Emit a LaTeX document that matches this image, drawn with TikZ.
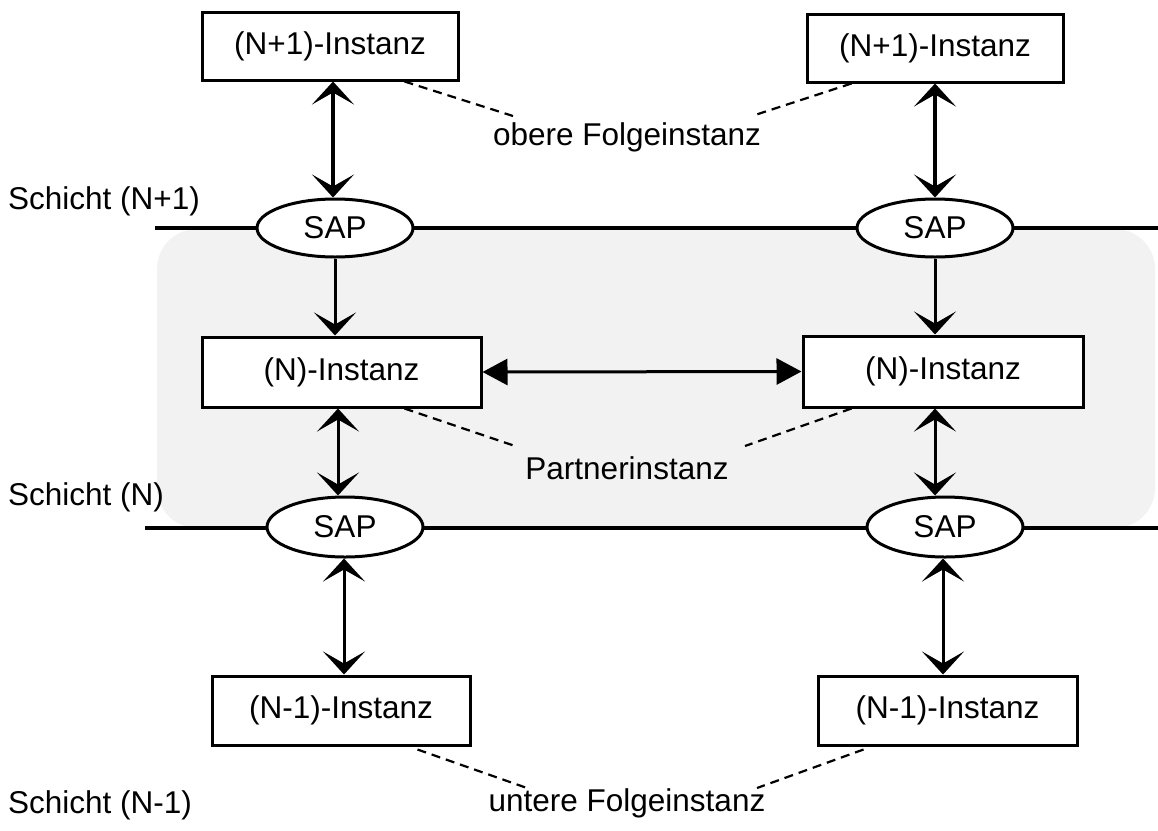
\documentclass[tikz,border=0pt]{standalone}
\usepackage{fontspec}
\setmainfont{Liberation Sans}
\usetikzlibrary{arrows.meta,shapes.geometric,calc}
\begin{document}
\begin{tikzpicture}[x=1pt,y=-1pt,
  every node/.style={font=\fontsize{31.5}{36}\selectfont},
  inst/.style={draw,line width=3pt,fill=white,inner sep=0pt},
  sap/.style={draw,ellipse,line width=3pt,fill=white,inner sep=0pt,
              minimum width=156pt,minimum height=58pt},
  lbl/.style={inner sep=0pt},
  guide/.style={dash pattern=on 9pt off 6pt,line width=2.2pt},
  layer/.style={line width=3.2pt},
  link/.style={line width=3pt},
  chev/.tip={Stealth[length=23pt,width=42pt,inset=12pt]},
  tri/.tip={Triangle[length=25pt,width=26pt]},
]
\useasboundingbox (0,0) rectangle (1158,830);

% shaded band of layer N
\fill[gray!10,rounded corners=40pt] (157,229) rectangle (1155,528);

% layer boundaries
\coordinate (l1w) at (155,228);
\coordinate (l1e) at (1158,228);
\coordinate (l0w) at (145,528);
\coordinate (l0e) at (1158,528);
\draw[layer] (l1w) -- (l1e);
\draw[layer] (l0w) -- (l0e);

% instances
\node[inst,minimum width=256pt,minimum height=68pt] (topL) at (330,46) {(N+1)-Instanz};
\node[inst,minimum width=256pt,minimum height=68pt] (topR) at (935,48) {(N+1)-Instanz};
\node[inst,minimum width=279pt,minimum height=70pt] (midL) at (341.5,372) {(N)-Instanz};
\node[inst,minimum width=280pt,minimum height=71pt] (midR) at (943,371.5) {(N)-Instanz};
\node[inst,minimum width=258pt,minimum height=69pt] (lowL) at (341,710.5) {(N-1)-Instanz};
\node[inst,minimum width=259pt,minimum height=69pt] (lowR) at (947.5,710.5) {(N-1)-Instanz};

% service access points
\node[sap] (sapTL) at (335,228) {SAP};
\node[sap] (sapTR) at (935,228) {SAP};
\node[sap,minimum height=60pt] (sapBL) at (345,527) {SAP};
\node[sap,minimum height=60pt] (sapBR) at (945,527) {SAP};

% labels
\node[lbl] (obere) at (627,137) {obere Folgeinstanz};
\node[lbl] (partner) at (627,468) {Partnerinstanz};
\node[lbl] (untere) at (627,803) {untere Folgeinstanz};
\node[lbl,anchor=west] (s1) at (8,201) {Schicht (N+1)};
\node[lbl,anchor=west] (s0) at (8,497) {Schicht (N)};
\node[lbl,anchor=west] (sm) at (8,805) {Schicht (N-1)};

% columns of the vertical connectors
\coordinate (c1L) at (333,0);  \coordinate (c1R) at (935,0);
\coordinate (c2L) at (335,0);  \coordinate (c2R) at (935,0);
\coordinate (c3L) at (338,0);  \coordinate (c3R) at (935,0);
\coordinate (c4L) at (344,0);  \coordinate (c4R) at (943,0);

% vertical connectors
\draw[line width=4pt,chev-chev] (topL.south -| c1L) -- (sapTL.north -| c1L);
\draw[line width=4pt,chev-chev] (topR.south -| c1R) -- (sapTR.north -| c1R);
\draw[link,-chev] (sapTL.south -| c2L) -- (midL.north -| c2L);
\draw[link,-chev] (sapTR.south -| c2R) -- (midR.north -| c2R);
\draw[link,chev-chev] (midL.south -| c3L) -- (sapBL.north -| c3L);
\draw[link,chev-chev] (midR.south -| c3R) -- (sapBR.north -| c3R);
\draw[link,chev-chev] (sapBL.south -| c4L) -- (lowL.north -| c4L);
\draw[link,chev-chev] (sapBR.south -| c4R) -- (lowR.north -| c4R);

% peer connection
\draw[link,tri-tri] (midL.east) -- (midR.west);

% label guides
\coordinate (oL) at (513,116);
\coordinate (oR) at (755,115);
\coordinate (pL) at (515,446);
\coordinate (pR) at (745,446);
\coordinate (uL) at (527,788);
\coordinate (uR) at (757,788);
\draw[guide] ($(topL.south east)+(-55,0)$) -- (oL);
\draw[guide] ($(topR.south west)+(46,0)$) -- (oR);
\draw[guide] ($(midL.south east)+(-78,0)$) -- (pL);
\draw[guide] ($(midR.south west)+(50,0)$) -- (pR);
\draw[guide] ($(lowL.south east)+(-54,3)$) -- (uL);
\draw[guide] ($(lowR.south west)+(47,3)$) -- (uR);
\end{tikzpicture}
\end{document}
